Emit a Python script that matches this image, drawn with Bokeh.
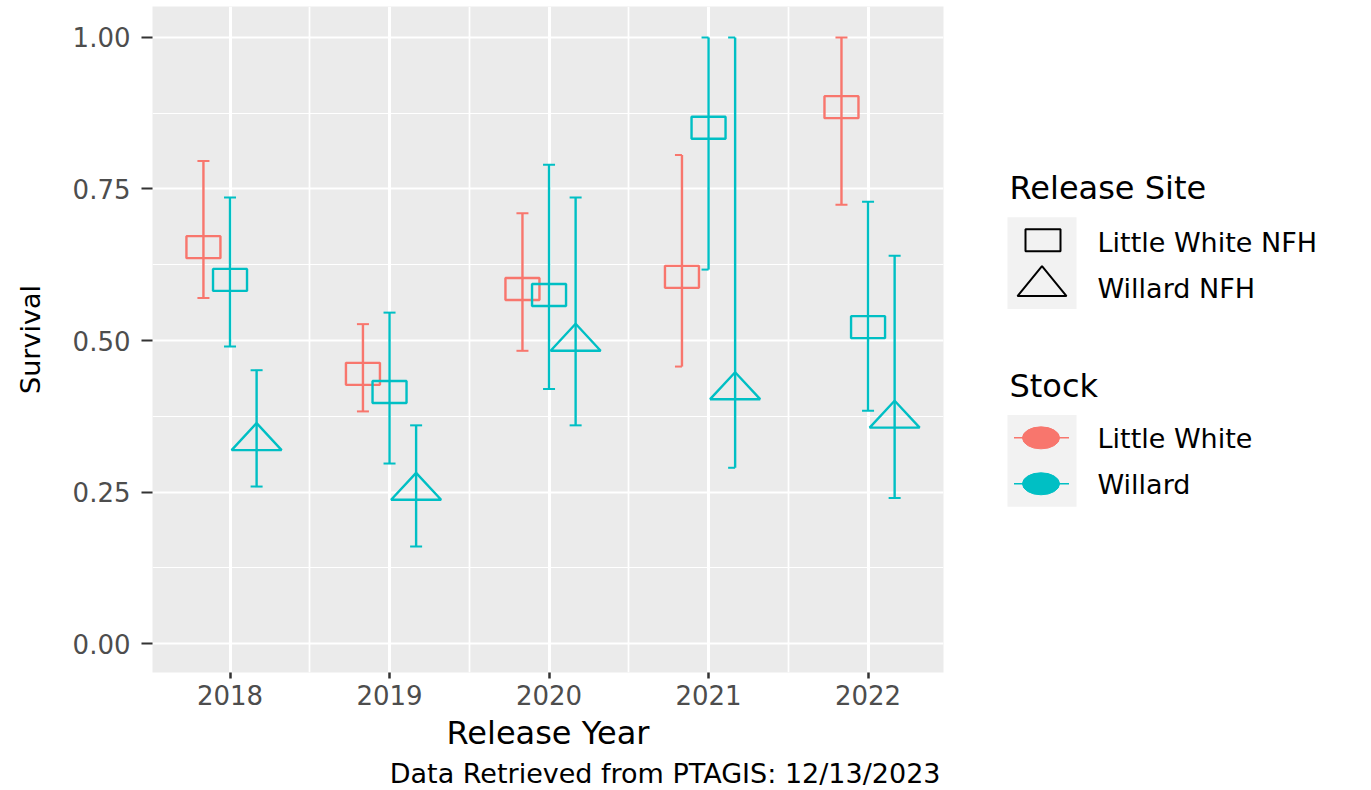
import numpy as np
from bokeh.plotting import figure
from bokeh.models import Range1d, FixedTicker, NumeralTickFormatter, Title
from bokeh.layouts import row
from bokeh.embed import file_html
from bokeh.resources import INLINE
from bokeh.core.properties import value

# ---------------- data ----------------
years = [2018, 2019, 2020, 2021, 2022]
y_ticks = [0.0, 0.25, 0.50, 0.75, 1.00]
site_labels = ["Little White NFH", "Willard NFH"]
stock_labels = ["Little White", "Willard"]

# Little White stock released at Little White NFH
lw_lw_est = [0.654, 0.445, 0.585, 0.605, 0.885]
lw_lw_lo = [0.570, 0.383, 0.483, 0.457, 0.724]
lw_lw_hi = [0.796, 0.527, 0.710, 0.806, 1.000]

# Willard stock released at Little White NFH
wi_lw_est = [0.600, 0.415, 0.575, 0.851, 0.522]
wi_lw_lo = [0.490, 0.297, 0.420, 0.617, 0.384]
wi_lw_hi = [0.736, 0.546, 0.790, 1.000, 0.729]

# Willard stock released at Willard NFH
wi_wi_est = [0.334, 0.252, 0.498, 0.418, 0.371]
wi_wi_lo = [0.259, 0.160, 0.360, 0.290, 0.240]
wi_wi_hi = [0.451, 0.360, 0.736, 1.000, 0.640]

groups = [
    dict(stock="Little White", site="Little White NFH", est=lw_lw_est, lo=lw_lw_lo, hi=lw_lw_hi),
    dict(stock="Willard", site="Little White NFH", est=wi_lw_est, lo=wi_lw_lo, hi=wi_lw_hi),
    dict(stock="Willard", site="Willard NFH", est=wi_wi_est, lo=wi_wi_lo, hi=wi_wi_hi),
]

# ---------------- style ----------------
COL = {"Little White": "#F8766D", "Willard": "#00BFC4"}
FONT = "DejaVu Sans"
PANEL = "#EBEBEB"
KEYBG = "#F2F2F2"
TICKCOL = "#4D4D4D"

TOTAL_W, H = 1366, 790
FL, FT = 152, 6
FRAME_W, FRAME_H = 791, 667
W_MAIN = 968
X0, X1 = 2017.514, 2022.473
Y0, Y1 = -0.0478, 1.0511
PX_X = FRAME_W / (X1 - X0)
PX_Y = FRAME_H / (Y1 - Y0)
DODGE = 0.5
CAP_PX = {2021: (7, 0)}     # (left, right) cap extent in px
CAP_DEFAULT = (6, 6)
SQ_W, SQ_H = 34, 22
TRI_W, TRI_H = 50, 27
LINE_W = 2.4

p = figure(width=W_MAIN, height=H, x_range=Range1d(X0, X1), y_range=Range1d(Y0, Y1),
           output_backend="svg", toolbar_location=None,
           min_border_left=FL, min_border_right=W_MAIN - FL - FRAME_W,
           min_border_top=FT, min_border_bottom=H - FT - FRAME_H,
           background_fill_color=PANEL, border_fill_color="white",
           outline_line_color=None)

n = len(groups)
for i, g in enumerate(groups):
    off = (i - (n - 1) / 2) * DODGE / n
    col = COL[g["stock"]]
    xs = [yr + off for yr in years]
    p.segment(x0=xs, y0=g["lo"], x1=xs, y1=g["hi"], line_color=col, line_width=LINE_W)
    cl = [CAP_PX.get(yr, CAP_DEFAULT)[0] / PX_X for yr in years]
    cr = [CAP_PX.get(yr, CAP_DEFAULT)[1] / PX_X for yr in years]
    for yv in (g["lo"], g["hi"]):
        p.segment(x0=[x - a for x, a in zip(xs, cl)], y0=yv,
                  x1=[x + b for x, b in zip(xs, cr)], y1=yv,
                  line_color=col, line_width=2)
    if g["site"] == site_labels[0]:
        p.rect(x=xs, y=g["est"], width=SQ_W, height=SQ_H, width_units="screen",
               height_units="screen", fill_color=None, line_color=col, line_width=LINE_W)
    else:
        hw = TRI_W / 2 / PX_X
        th = TRI_H / PX_Y
        txs = [[x - hw, x + hw, x] for x in xs]
        tys = [[e - th / 3, e - th / 3, e + 2 * th / 3] for e in g["est"]]
        p.patches(xs=txs, ys=tys, fill_color=None, line_color=col, line_width=LINE_W)

# axes
p.xaxis.ticker = FixedTicker(ticks=years, minor_ticks=[yr + 0.5 for yr in years[:-1]])
p.yaxis.ticker = FixedTicker(ticks=y_ticks,
                             minor_ticks=[(a + b) / 2 for a, b in zip(y_ticks[:-1], y_ticks[1:])])
p.yaxis.formatter = NumeralTickFormatter(format="0.00")
for ax in (p.xaxis, p.yaxis):
    ax.axis_line_color = None
    ax.minor_tick_line_color = None
    ax.major_tick_line_color = "#333333"
    ax.major_tick_in = 0
    ax.major_label_text_font = FONT
    ax.major_label_text_font_size = "26px"
    ax.major_label_text_color = TICKCOL
    ax.axis_label_text_font = FONT
    ax.axis_label_text_font_style = "normal"
    ax.axis_label_text_color = "black"
p.xaxis.major_tick_out = 6
p.xaxis.major_tick_line_width = 2.5
p.xaxis.major_label_standoff = 6
p.xaxis.axis_label = "Release Year"
p.xaxis.axis_label_text_font_size = "32px"
p.xaxis.axis_label_standoff = 6
p.yaxis.major_tick_out = 11
p.yaxis.major_tick_line_width = 1.8
p.yaxis.major_label_standoff = 11
p.yaxis.axis_label = "Survival"
p.yaxis.axis_label_text_font_size = "27px"
p.yaxis.axis_label_standoff = 24

p.xgrid.grid_line_color = "white"
p.xgrid.grid_line_width = 3
p.xgrid.minor_grid_line_color = "white"
p.xgrid.minor_grid_line_width = 1.7
p.ygrid.grid_line_color = "white"
p.ygrid.grid_line_width = 2.2
p.ygrid.minor_grid_line_color = "white"
p.ygrid.minor_grid_line_width = 1.2

caption = Title(text="Data Retrieved from PTAGIS: 12/13/2023", align="right",
                text_font=FONT, text_font_size="27px", text_font_style="normal",
                text_color="black", standoff=3, offset=3)
p.add_layout(caption, "below")

# ---------------- legend panel ----------------
# (its frame is aligned with the main frame by the row layout; map page px 1:1)
LW = TOTAL_W - W_MAIN
lg = figure(width=LW, height=H, x_range=Range1d(W_MAIN, W_MAIN + LW),
            y_range=Range1d(FT + FRAME_H, FT),
            output_backend="svg", toolbar_location=None,
            min_border_left=0, min_border_right=0,
            min_border_top=FT, min_border_bottom=H - FT - FRAME_H,
            x_axis_type=None, y_axis_type=None, outline_line_color=None,
            background_fill_color="white", border_fill_color="white")
lg.grid.visible = False

KEY_CX, KEY_W = 1041.5, 69
ROW = 46
TITLE_X, LABEL_X = 1009, 1097
blocks = [("Release Site", 188, 217), ("Stock", 386, 415)]

lg.text(x=[TITLE_X] * 2, y=[b[1] for b in blocks], text=[b[0] for b in blocks],
        text_font=value(FONT), text_font_size="32px", text_baseline="middle",
        text_align="left", text_color="black")
lg.rect(x=[KEY_CX] * 2, y=[b[2] + ROW for b in blocks], width=KEY_W, height=2 * ROW,
        fill_color=KEYBG, line_color=None)

# Release site keys (shape)
top1 = blocks[0][2]
r0 = top1 + ROW / 2
r1 = top1 + 3 * ROW / 2
lg.rect(x=[KEY_CX + 1], y=[r0], width=35, height=22, fill_color=None,
        line_color="black", line_width=2)
tw, th = 49, 30
lg.patch(x=[KEY_CX - tw / 2, KEY_CX + tw / 2, KEY_CX],
         y=[r1 + th / 3, r1 + th / 3, r1 - 2 * th / 3],
         fill_color=None, line_color="black", line_width=2)
lg.text(x=[LABEL_X] * 2, y=[r0 + 2, r1 + 2], text=site_labels, text_font=value(FONT),
        text_font_size="27px", text_baseline="middle", text_align="left", text_color="black")

# Stock keys (colour)
top2 = blocks[1][2]
rows2 = [top2 + ROW / 2 + k * ROW for k in range(len(stock_labels))]
cols2 = [COL[s] for s in stock_labels]
lg.segment(x0=[KEY_CX - 28] * 2, y0=rows2, x1=[KEY_CX + 27] * 2, y1=rows2,
           line_color=cols2, line_width=1.5)
lg.ellipse(x=[KEY_CX - 1] * 2, y=rows2, width=37, height=22, fill_color=cols2,
           line_color=cols2)
lg.text(x=[LABEL_X] * 2, y=[r + 1 for r in rows2], text=stock_labels, text_font=value(FONT),
        text_font_size="27px", text_baseline="middle", text_align="left", text_color="black")

layout = row(p, lg)
open("out.html", "w").write(file_html(layout, INLINE))
